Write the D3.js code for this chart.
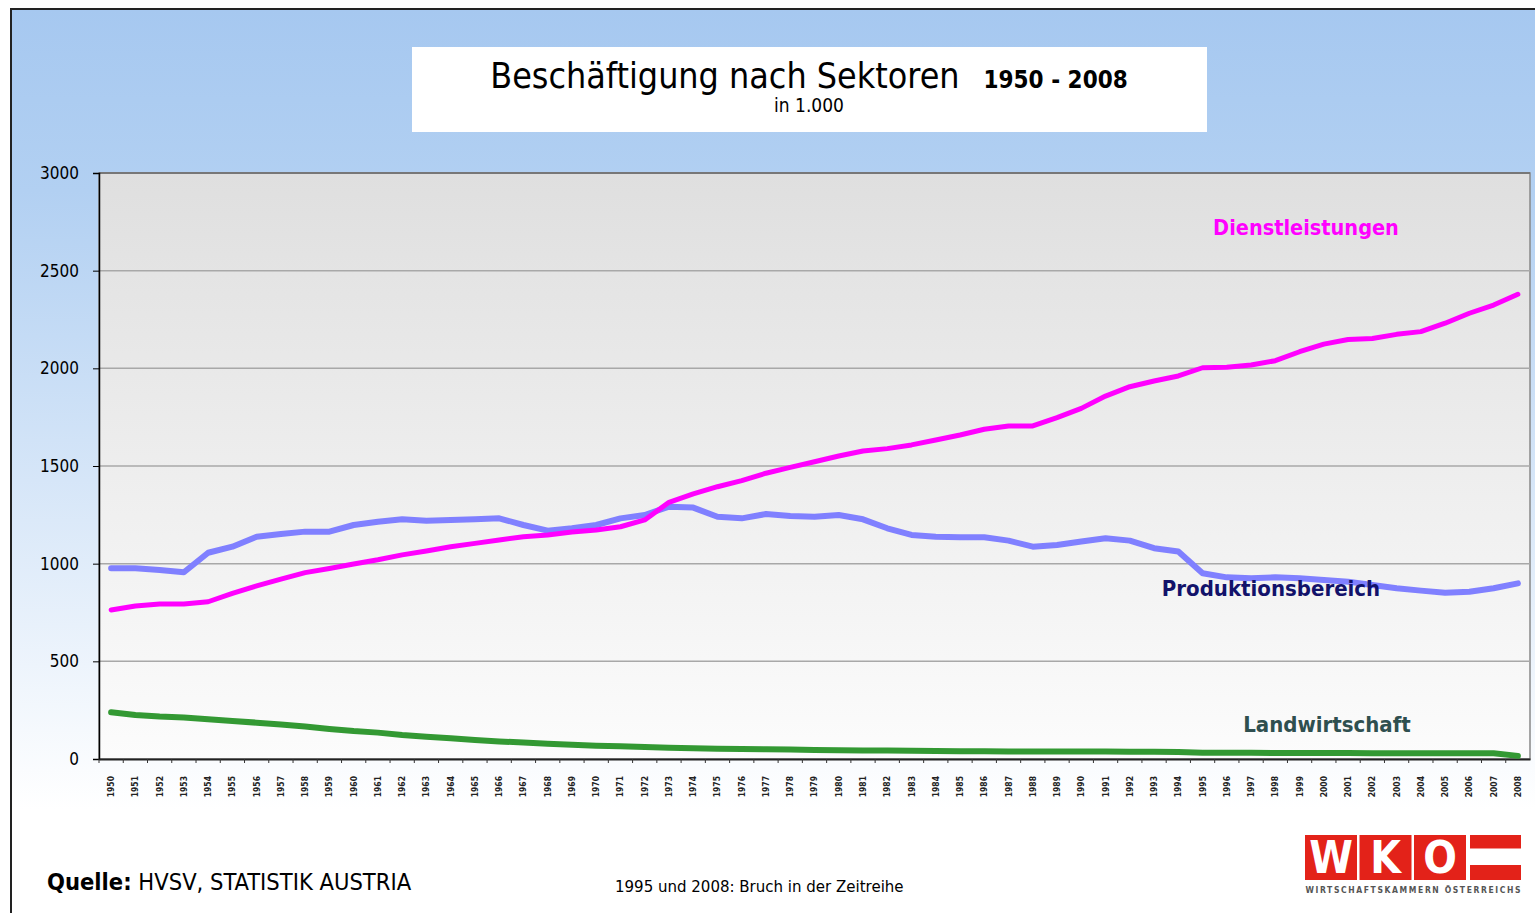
<!DOCTYPE html>
<html>
<head>
<meta charset="utf-8">
<script src="https://cdn.jsdelivr.net/npm/d3@7"></script>
<style>
  body { margin: 0; background: #fff; }
  svg { display: block; }
  text { font-family: "DejaVu Sans Condensed", "DejaVu Sans", sans-serif; font-stretch: condensed; }
</style>
</head>
<body>
<svg id="chart" width="1535" height="913"></svg>
<script>
// Beschäftigung nach Sektoren 1950 - 2008, in 1.000
const years = [1950,1951,1952,1953,1954,1955,1956,1957,1958,1959,
  1960,1961,1962,1963,1964,1965,1966,1967,1968,1969,
  1970,1971,1972,1973,1974,1975,1976,1977,1978,1979,
  1980,1981,1982,1983,1984,1985,1986,1987,1988,1989,
  1990,1991,1992,1993,1994,1995,1996,1997,1998,1999,
  2000,2001,2002,2003,2004,2005,2006,2007,2008];

const dienstleistungen = [763,783,794,794,805,848,886,921,954,975,
  998,1020,1045,1065,1087,1104,1121,1138,1147,1162,
  1172,1189,1224,1314,1357,1394,1425,1463,1493,1522,
  1551,1577,1589,1608,1633,1659,1688,1705,1705,1748,
  1795,1858,1906,1935,1961,2003,2005,2017,2039,2085,
  2124,2148,2153,2174,2188,2231,2282,2324,2379];

const produktion = [976,976,968,956,1056,1087,1138,1152,1164,1164,
  1198,1215,1227,1220,1224,1227,1232,1198,1169,1181,
  1198,1232,1249,1292,1287,1240,1232,1254,1244,1240,
  1249,1227,1181,1147,1138,1135,1135,1118,1087,1096,
  1113,1130,1118,1079,1062,951,930,925,930,925,
  916,908,891,874,862,851,856,874,899];

const landwirtschaft = [239,225,217,213,203,195,186,177,166,154,
  143,135,123,114,106,97,90,84,78,73,
  68,65,61,58,55,53,51,50,48,46,
  45,44,43,42,41,40,40,39,39,38,
  38,38,37,37,36,32,32,32,31,31,
  31,31,30,30,30,30,29,29,16];

const yTicks = [0, 500, 1000, 1500, 2000, 2500, 3000];

const series = [
  { name: 'Produktionsbereich', values: produktion, color: '#8080ff', width: 6 },
  { name: 'Landwirtschaft', values: landwirtschaft, color: '#339933', width: 6 },
  { name: 'Dienstleistungen', values: dienstleistungen, color: '#ff00ff', width: 5 }
];

var svg = d3.select('#chart');
var defs = svg.append('defs');

var bg = defs.append('linearGradient').attr('id', 'bg')
  .attr('x1', 0).attr('y1', 0).attr('x2', 0).attr('y2', 1);
bg.append('stop').attr('offset', '0%').attr('stop-color', '#a6c8f0');
bg.append('stop').attr('offset', '20%').attr('stop-color', '#b2d0f2');
bg.append('stop').attr('offset', '88%').attr('stop-color', '#ffffff');

var plotBg = defs.append('linearGradient').attr('id', 'plotbg')
  .attr('x1', 0).attr('y1', 0).attr('x2', 0).attr('y2', 1);
plotBg.append('stop').attr('offset', '0%').attr('stop-color', '#dfdfdf');
plotBg.append('stop').attr('offset', '100%').attr('stop-color', '#fcfcfc');

// outer panel
svg.append('rect').attr('x', 11).attr('y', 9).attr('width', 1530).attr('height', 910)
  .attr('fill', 'url(#bg)').attr('stroke', '#222').attr('stroke-width', 2);

// title box
svg.append('rect').attr('x', 412).attr('y', 47).attr('width', 795).attr('height', 85)
  .attr('fill', '#fff');
var title = svg.append('text').attr('x', 809).attr('y', 88).attr('text-anchor', 'middle');
title.append('tspan').attr('font-size', 35.5).text('Beschäftigung nach Sektoren');
title.append('tspan').attr('font-size', 24).attr('font-weight', 'bold').attr('dx', 24).text('1950 - 2008');
svg.append('text').attr('x', 809).attr('y', 112).attr('text-anchor', 'middle')
  .attr('font-size', 19).text('in 1.000');

var margin = { left: 99, top: 173, right: 1530, bottom: 759 };

var x = d3.scaleBand().domain(years).range([margin.left, margin.right]);
var y = d3.scaleLinear().domain([0, 3000]).range([margin.bottom, margin.top]);

// plot area
svg.append('rect').attr('x', margin.left).attr('y', margin.top)
  .attr('width', margin.right - margin.left).attr('height', margin.bottom - margin.top)
  .attr('fill', 'url(#plotbg)').attr('stroke', '#888').attr('stroke-width', 1.5);

// grid
svg.append('g').selectAll('line').data(yTicks.slice(1)).enter().append('line')
  .attr('x1', margin.left).attr('x2', margin.right)
  .attr('y1', d => y(d)).attr('y2', d => y(d))
  .attr('stroke', d => d === 3000 ? '#777' : '#a8a8a8').attr('stroke-width', d => d === 3000 ? 2 : 1.5);

// y axis
var yAxis = svg.append('g').attr('transform', 'translate(' + margin.left + ',0)')
  .call(d3.axisLeft(y).tickValues(yTicks).tickSize(6).tickPadding(14).tickFormat(d3.format('d')));
yAxis.select('.domain').attr('stroke', '#000').attr('stroke-width', 1.5);
yAxis.selectAll('.tick line').attr('stroke', '#000');
yAxis.selectAll('.tick text').attr('font-size', 17).attr('fill', '#000')
  .attr('font-family', '"DejaVu Sans Condensed", "DejaVu Sans", sans-serif');

// x axis
var xAxis = svg.append('g').attr('transform', 'translate(0,' + margin.bottom + ')')
  .call(d3.axisBottom(x).tickSize(0).tickSizeOuter(0));
xAxis.select('.domain').attr('stroke', '#222').attr('stroke-width', 2);
xAxis.selectAll('.tick text')
  .attr('font-size', 8.5).attr('font-weight', 'bold').attr('fill', '#222')
  .attr('font-family', '"DejaVu Sans Condensed", "DejaVu Sans", sans-serif')
  .attr('text-anchor', 'end')
  .attr('transform', 'translate(0,17) rotate(-90)')
  .attr('x', 0).attr('y', 0).attr('dy', '0.35em');
xAxis.selectAll('line.bnd').data(years).enter().append('line').attr('class', 'bnd')
  .attr('x1', d => x(d)).attr('x2', d => x(d)).attr('y1', 0).attr('y2', 4)
  .attr('stroke', '#333');

// lines
var line = d3.line()
  .x((d, i) => x(years[i]) + x.bandwidth() / 2)
  .y(d => y(d));

svg.append('g').selectAll('path').data(series).enter().append('path')
  .attr('d', d => line(d.values))
  .attr('fill', 'none')
  .attr('stroke', d => d.color)
  .attr('stroke-width', d => d.width)
  .attr('stroke-linejoin', 'round')
  .attr('stroke-linecap', 'round');

// series labels
svg.append('text').attr('x', 1306).attr('y', 235).attr('text-anchor', 'middle')
  .attr('font-size', 21.5).attr('font-weight', 'bold').attr('fill', '#ff00ff')
  .text('Dienstleistungen');
svg.append('text').attr('x', 1271).attr('y', 596).attr('text-anchor', 'middle')
  .attr('font-size', 22).attr('font-weight', 'bold').attr('fill', '#12126a')
  .text('Produktionsbereich');
svg.append('text').attr('x', 1327).attr('y', 732).attr('text-anchor', 'middle')
  .attr('font-size', 22).attr('font-weight', 'bold').attr('fill', '#2f4f4f')
  .text('Landwirtschaft');

// footer
var src = svg.append('text').attr('x', 47).attr('y', 890).attr('font-size', 23.5).attr('fill', '#000');
src.append('tspan').attr('font-weight', 'bold').text('Quelle:');
src.append('tspan').text(' HVSV, STATISTIK AUSTRIA');
svg.append('text').attr('x', 615).attr('y', 892).attr('font-size', 16.7).attr('fill', '#000')
  .text('1995 und 2008: Bruch in der Zeitreihe');

// WKO logo
var logo = svg.append('g');
var boxes = ['W', 'K', 'O'];
logo.selectAll('rect.l').data(boxes).enter().append('rect').attr('class', 'l')
  .attr('x', (d, i) => 1305 + i * 54.5).attr('y', 835).attr('width', 52).attr('height', 45)
  .attr('fill', '#e32219');
logo.selectAll('text.l').data(boxes).enter().append('text').attr('class', 'l')
  .attr('x', (d, i) => 1305 + i * 54.5 + 26).attr('y', 873).attr('text-anchor', 'middle')
  .attr('font-size', 44).attr('font-weight', 'bold').attr('fill', '#fff')
  .attr('font-family', '"DejaVu Sans", sans-serif').style('font-stretch', 'normal')
  .text(d => d);
logo.append('rect').attr('x', 1470).attr('y', 835).attr('width', 51).attr('height', 45).attr('fill', '#e32219');
logo.append('rect').attr('x', 1470).attr('y', 848.5).attr('width', 51).attr('height', 16.5).attr('fill', '#fff');
logo.append('text').attr('x', 1413).attr('y', 893).attr('text-anchor', 'middle')
  .attr('font-size', 8.5).attr('font-weight', 'bold').attr('fill', '#555')
  .attr('textLength', 215).attr('lengthAdjust', 'spacing')
  .text('WIRTSCHAFTSKAMMERN ÖSTERREICHS');
</script>
</body>
</html>
